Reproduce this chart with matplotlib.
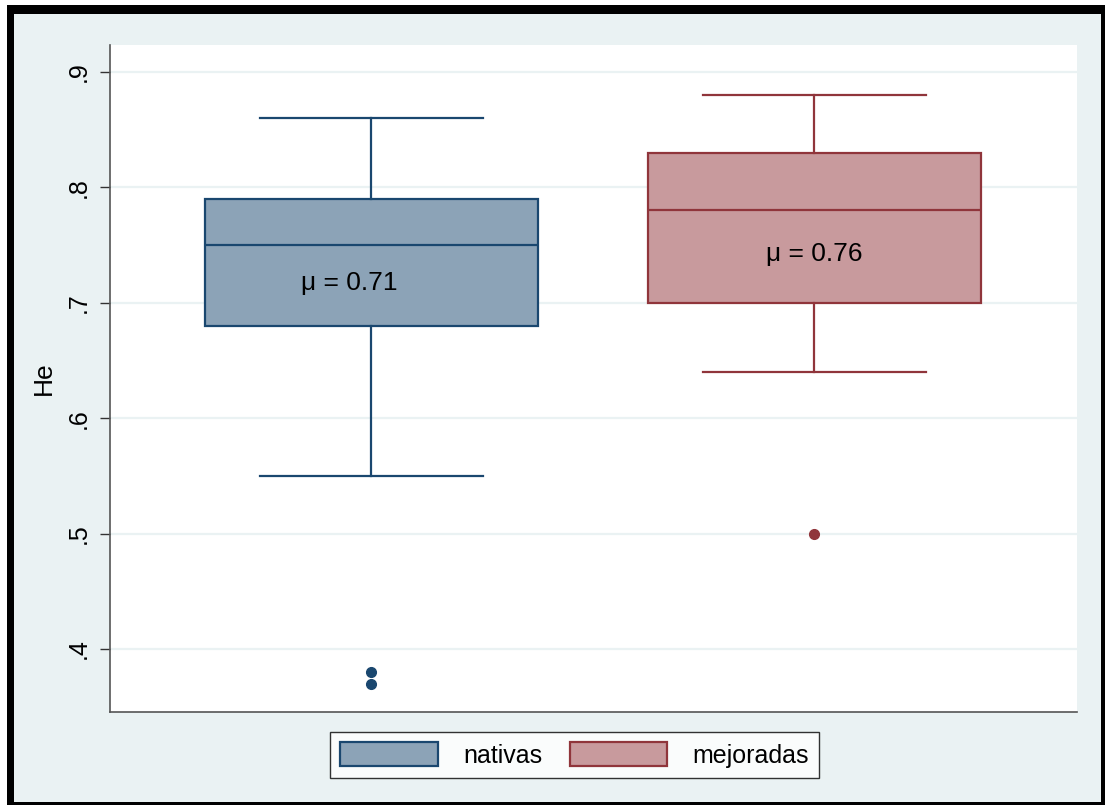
import matplotlib.pyplot as plt
from matplotlib.patches import Rectangle, Patch

plt.rcParams['font.family'] = ['Liberation Sans', 'DejaVu Sans']

# Resumen de He por grupo
grupos = ["nativas", "mejoradas"]
bigote_inf = [0.55, 0.64]
q1 = [0.68, 0.70]
mediana = [0.75, 0.78]
q3 = [0.79, 0.83]
bigote_sup = [0.86, 0.88]
atipicos = [[0.38, 0.37], [0.50]]
medias = [0.71, 0.76]

yticks = [0.4, 0.5, 0.6, 0.7, 0.8, 0.9]
ytick_labels = [".4", ".5", ".6", ".7", ".8", ".9"]

# Colores estilo s2color
borde = ["#1A476F", "#90353B"]
relleno = ["#8CA3B7", "#C89A9D"]
fondo = "#EAF2F3"

W, H = 1105, 805
fig = plt.figure(figsize=(W / 100, H / 100), dpi=100, facecolor="white")

# marco negro y fondo del gráfico
fig.patches.append(Rectangle((7 / W, 0), 1098 / W, 800 / H, transform=fig.transFigure,
                             facecolor="black", edgecolor="none", zorder=-2))
fig.patches.append(Rectangle((14 / W, 3 / H), 1087 / W, 788 / H, transform=fig.transFigure,
                             facecolor=fondo, edgecolor="none", zorder=-1))

ax = fig.add_axes([110 / W, 1 - 712 / H, 967 / W, 667 / H])
ax.set_facecolor("white")

stats = []
for i, g in enumerate(grupos):
    stats.append(dict(label=g, whislo=bigote_inf[i], q1=q1[i], med=mediana[i],
                      q3=q3[i], whishi=bigote_sup[i], fliers=atipicos[i]))

posiciones = [1, 2]
for i in range(2):
    ax.bxp([stats[i]], positions=[posiciones[i]], widths=0.752, capwidths=0.503,
           patch_artist=True, manage_ticks=False,
           boxprops=dict(facecolor=relleno[i], edgecolor=borde[i], linewidth=1.6),
           medianprops=dict(color=borde[i], linewidth=1.6),
           whiskerprops=dict(color=borde[i], linewidth=1.6),
           capprops=dict(color=borde[i], linewidth=1.6),
           flierprops=dict(marker="o", markersize=7, markerfacecolor=borde[i],
                           markeredgecolor=borde[i]),
           zorder=3)

# etiquetas de la media
ax.text(0.95, 0.717, f"μ = {medias[0]:.2f}", ha="center", va="center", fontsize=19, zorder=4)
ax.text(2.0, 0.742, f"μ = {medias[1]:.2f}", ha="center", va="center", fontsize=19, zorder=4)

ax.set_xlim(0.410, 2.593)
ax.set_ylim(0.3454, 0.9234)
ax.set_xticks([])
ax.set_yticks(yticks)
ax.set_yticklabels(ytick_labels, rotation=90, va="center", fontsize=18)
ax.tick_params(axis="y", length=7, width=1, color="#333333", pad=7)
ax.grid(axis="y", color=fondo, linewidth=1.6, zorder=0)
ax.set_axisbelow(True)

for s in ["top", "right"]:
    ax.spines[s].set_visible(False)
for s in ["left", "bottom"]:
    ax.spines[s].set_color("#555555")
    ax.spines[s].set_linewidth(1.2)

ax.set_ylabel("He", fontsize=19)
ax.yaxis.set_label_coords(-0.056, 0.5)

handles = [Patch(facecolor=relleno[i], edgecolor=borde[i], linewidth=1.6, label=grupos[i])
           for i in range(2)]
leg = fig.legend(handles=handles, loc="center", bbox_to_anchor=(574.5 / W, 1 - 755 / H),
                 ncol=2, fontsize=18, frameon=True, fancybox=False, edgecolor="black",
                 handlelength=3.9, handleheight=1.1, handletextpad=1.0, columnspacing=1.1,
                 borderpad=0.4)
leg.get_frame().set_linewidth(1.0)

fig.savefig("out.png", dpi=100, facecolor=fig.get_facecolor())
